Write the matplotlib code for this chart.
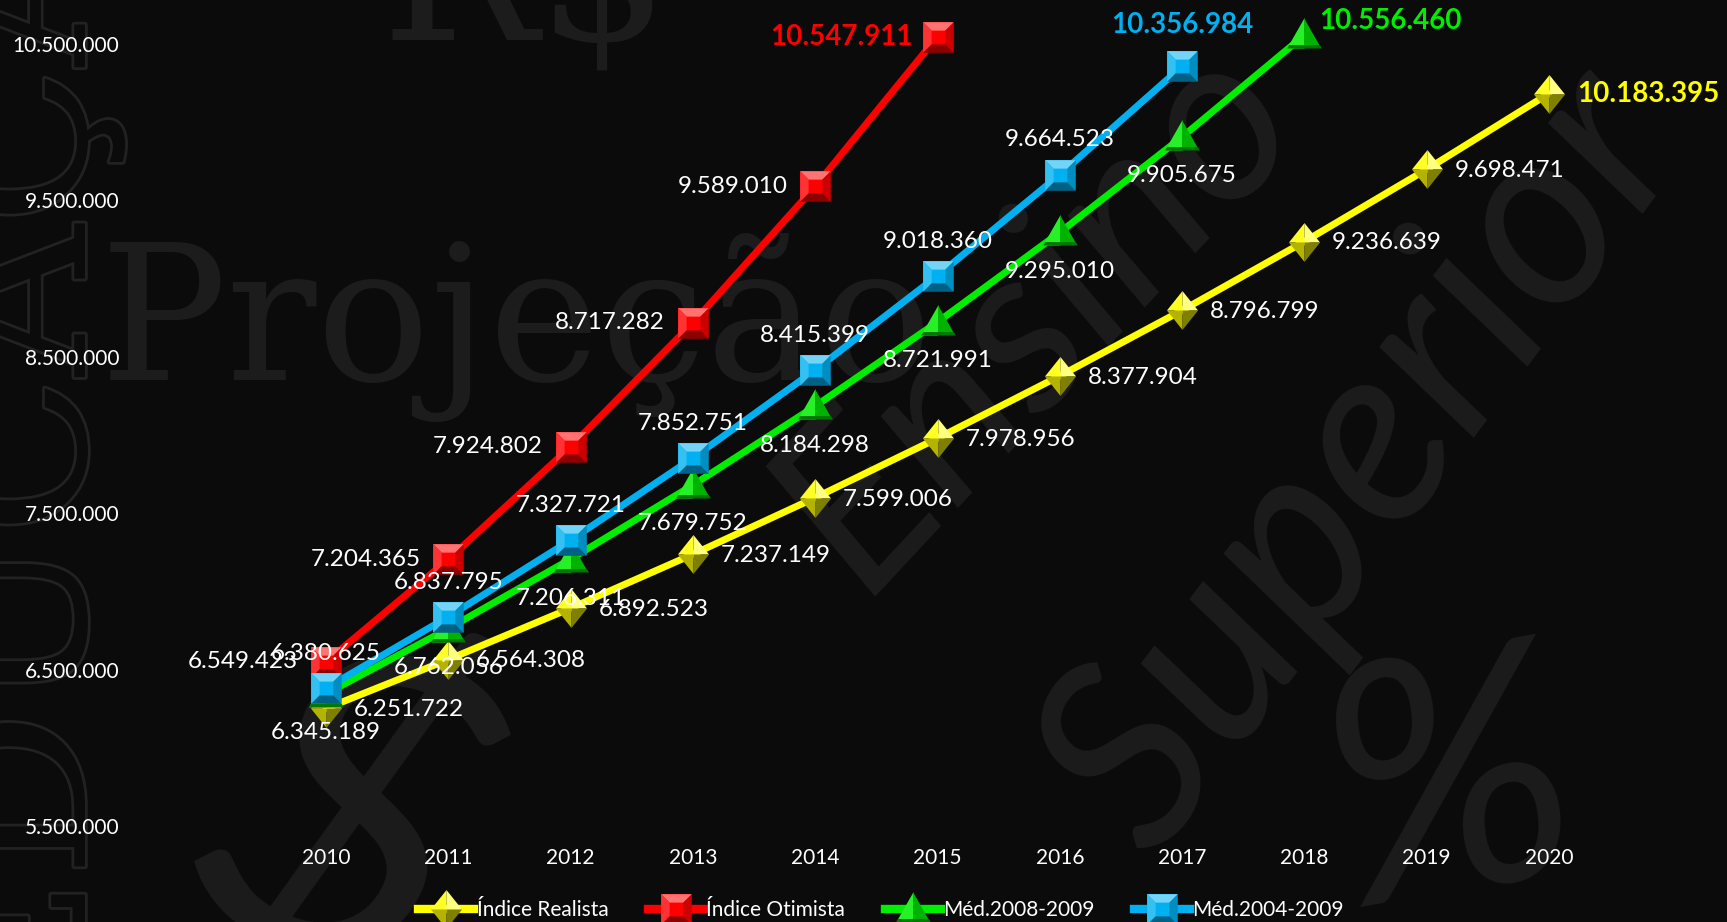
"""Projeção de matrículas no ensino superior, 2010-2020."""

import matplotlib
matplotlib.use("Agg")
import matplotlib.pyplot as plt
import matplotlib.patheffects as pe
from matplotlib.colors import to_rgb
from matplotlib.legend_handler import HandlerTuple
from matplotlib.lines import Line2D
from matplotlib.path import Path

anos = [2010, 2011, 2012, 2013, 2014, 2015, 2016, 2017, 2018, 2019, 2020]
realista = [6251722, 6564308, 6892523, 7237149, 7599006, 7978956,
            8377904, 8796799, 9236639, 9698471, 10183395]
otimista = [6549423, 7204365, 7924802, 8717282, 9589010, 10547911]
med_2008_2009 = [6345189, 6762056, 7206311, 7679752, 8184298, 8721991,
                 9295010, 9905675, 10556460]
med_2004_2009 = [6380625, 6837795, 7327721, 7852751, 8415399, 9018360,
                 9664523, 10356984]
nomes = ["Índice Realista", "Índice Otimista", "Méd.2008-2009", "Méd.2004-2009"]
y_ticks = [5500000, 6500000, 7500000, 8500000, 9500000, 10500000]

FUNDO = "#0b0b0b"
MARCA_DAGUA = "#1c1c1c"
FONTE = "Lato"


def fmt(v):
    return f"{v:,}".replace(",", ".")


def tom(cor, k):
    """k > 0 clareia, k < 0 escurece."""
    r, g, b = to_rgb(cor)
    if k >= 0:
        return (r + (1 - r) * k, g + (1 - g) * k, b + (1 - b) * k)
    return (r * (1 + k), g * (1 + k), b * (1 + k))


def poly(pts):
    return Path(pts + [pts[0]], closed=True)


# facetas dos marcadores "3D" (cada faceta toca a extensão máxima do desenho,
# assim todas ficam na mesma escala)
def facetas_quadrado(cor):
    a = 0.45
    base = poly([(-1, -1), (1, -1), (1, 1), (-1, 1)])
    return [
        (base, cor),
        (poly([(-1, 1), (1, 1), (a, a), (-a, a)]), tom(cor, 0.45)),
        (poly([(-1, -1), (-1, 1), (-a, a), (-a, -a)]), tom(cor, 0.2)),
        (poly([(1, 1), (1, -1), (a, -a), (a, a)]), tom(cor, -0.2)),
        (poly([(1, -1), (-1, -1), (-a, -a), (a, -a)]), tom(cor, -0.45)),
    ]


def facetas_losango(cor):
    w = 0.8
    return [
        (poly([(0, 1), (-w, 0), (0, 0)]), tom(cor, 0.15)),
        (poly([(0, 1), (w, 0), (0, 0)]), tom(cor, 0.5)),
        (poly([(-w, 0), (0, -1), (0, 0)]), tom(cor, -0.3)),
        (poly([(w, 0), (0, -1), (0, 0)]), tom(cor, -0.5)),
    ]


def facetas_triangulo(cor):
    return [
        (poly([(0, 1), (-1, -0.75), (0, -0.75)]), tom(cor, 0.15)),
        (poly([(0, 1), (0, -0.75), (1, -0.75)]), tom(cor, -0.25)),
        (poly([(-1, -0.75), (1, -0.75), (0.886, -0.55), (-0.886, -0.55)]),
         tom(cor, -0.5)),
    ]


series = [
    # valores, cor, facetas, tamanho, rótulo (ha, va, dx, dy), último rótulo
    (realista, "#ffff00", facetas_losango, 28,
     ("left", "center", 20, -1), ("left", "center", 20, 0)),
    (otimista, "#ff0000", facetas_quadrado, 22,
     ("right", "center", -20, 0), ("right", "center", -18, 0)),
    (med_2008_2009, "#00ee00", facetas_triangulo, 25,
     ("center", "center", 0, -28), ("left", "center", 11, 10)),
    (med_2004_2009, "#00b0f0", facetas_quadrado, 22,
     ("center", "center", 0, 25), ("center", "center", 0, 30)),
]

plt.rcParams["font.family"] = [FONTE, "DejaVu Sans"]

fig = plt.figure(figsize=(17.27, 9.22), dpi=100, facecolor=FUNDO)
ax = fig.add_axes([125 / 1727, 96 / 922, 1602 / 1727, 782 / 922])
ax.set_facecolor("none")

# marca d'água ao fundo
wm = dict(color=MARCA_DAGUA, zorder=-1)
fig.text(100 / 1727, 1 - 380 / 922, "Projeção", family="DejaVu Serif",
         fontsize=136, va="baseline", ha="left", **wm)
fig.text(380 / 1727, 1 - 40 / 922, "R$", family="DejaVu Serif",
         fontsize=150, va="baseline", ha="left", **wm)
fig.text(0.60, 0.66, "Ensino", family="Lato", style="italic",
         fontsize=170, rotation=47, ha="center", va="center", **wm)
fig.text(0.79, 0.50, "Superior", family="Lato", style="italic",
         fontsize=185, rotation=53, ha="center", va="center", **wm)
fig.text(1450 / 1727, 0.14, "%", family="Lato", style="italic",
         fontsize=240, rotation=10, ha="center", va="center", **wm)
fig.text(340 / 1727, 0.10, "$", family="Lato", style="italic",
         fontsize=320, rotation=-25, ha="center", va="center", **wm)
fig.text(128 / 1727, 0.58, "EDUCAÇÃO", family="DejaVu Serif", fontsize=150,
         rotation=90, ha="right", va="center", color=FUNDO, zorder=-1,
         path_effects=[pe.withStroke(linewidth=4, foreground="#222222")])

legend_handles = []
for i, (vals, cor, facetas, ms, lab, lab_fim) in enumerate(series):
    x = anos[:len(vals)]
    z = 3 + i * 3
    ax.plot(x, vals, color=cor, lw=5, solid_capstyle="round", zorder=z,
            clip_on=False)
    handle = [Line2D([], [], color=cor, lw=6)]
    for path, c in facetas(cor):
        ax.plot(x, vals, ls="none", marker=path, markersize=ms,
                markerfacecolor=c, markeredgewidth=0, zorder=z + 1,
                clip_on=False)
        handle.append(Line2D([], [], ls="none", marker=path, markersize=ms,
                             markerfacecolor=c, markeredgewidth=0))
    legend_handles.append(tuple(handle))

    for j, (xi, v) in enumerate(zip(x, vals)):
        ultimo = j == len(vals) - 1
        ha, va, dx, dy = lab_fim if ultimo else lab
        ax.annotate(fmt(v), (xi, v), xytext=(dx, dy), textcoords="offset points",
                    ha=ha, va=va, fontsize=20 if ultimo else 17.5,
                    fontweight="bold" if ultimo else "normal",
                    color=cor if ultimo else "white", zorder=20,
                    annotation_clip=False)

ax.set_xlim(2010 - 201 / 122.3, 2010 - 201 / 122.3 + 1602 / 122.3)
ax.set_ylim(5500000, 10500000)
ax.set_xticks(anos)
ax.set_xticklabels([str(a) for a in anos])
ax.set_yticks(y_ticks)
ax.set_yticklabels([fmt(v) for v in y_ticks])
ax.tick_params(axis="both", length=0, colors="white", labelsize=15)
ax.tick_params(axis="x", pad=16)
ax.tick_params(axis="y", pad=4)
for s in ax.spines.values():
    s.set_visible(False)

fig.legend(legend_handles, nomes, loc="center", bbox_to_anchor=(881 / 1727, 12 / 922),
           ncol=4, frameon=False, fontsize=15, labelcolor="white",
           handler_map={tuple: HandlerTuple(ndivide=1, pad=0)},
           handlelength=2.7, handletextpad=0.1, columnspacing=1.9)

fig.savefig("out.png", dpi=100, facecolor=FUNDO)
